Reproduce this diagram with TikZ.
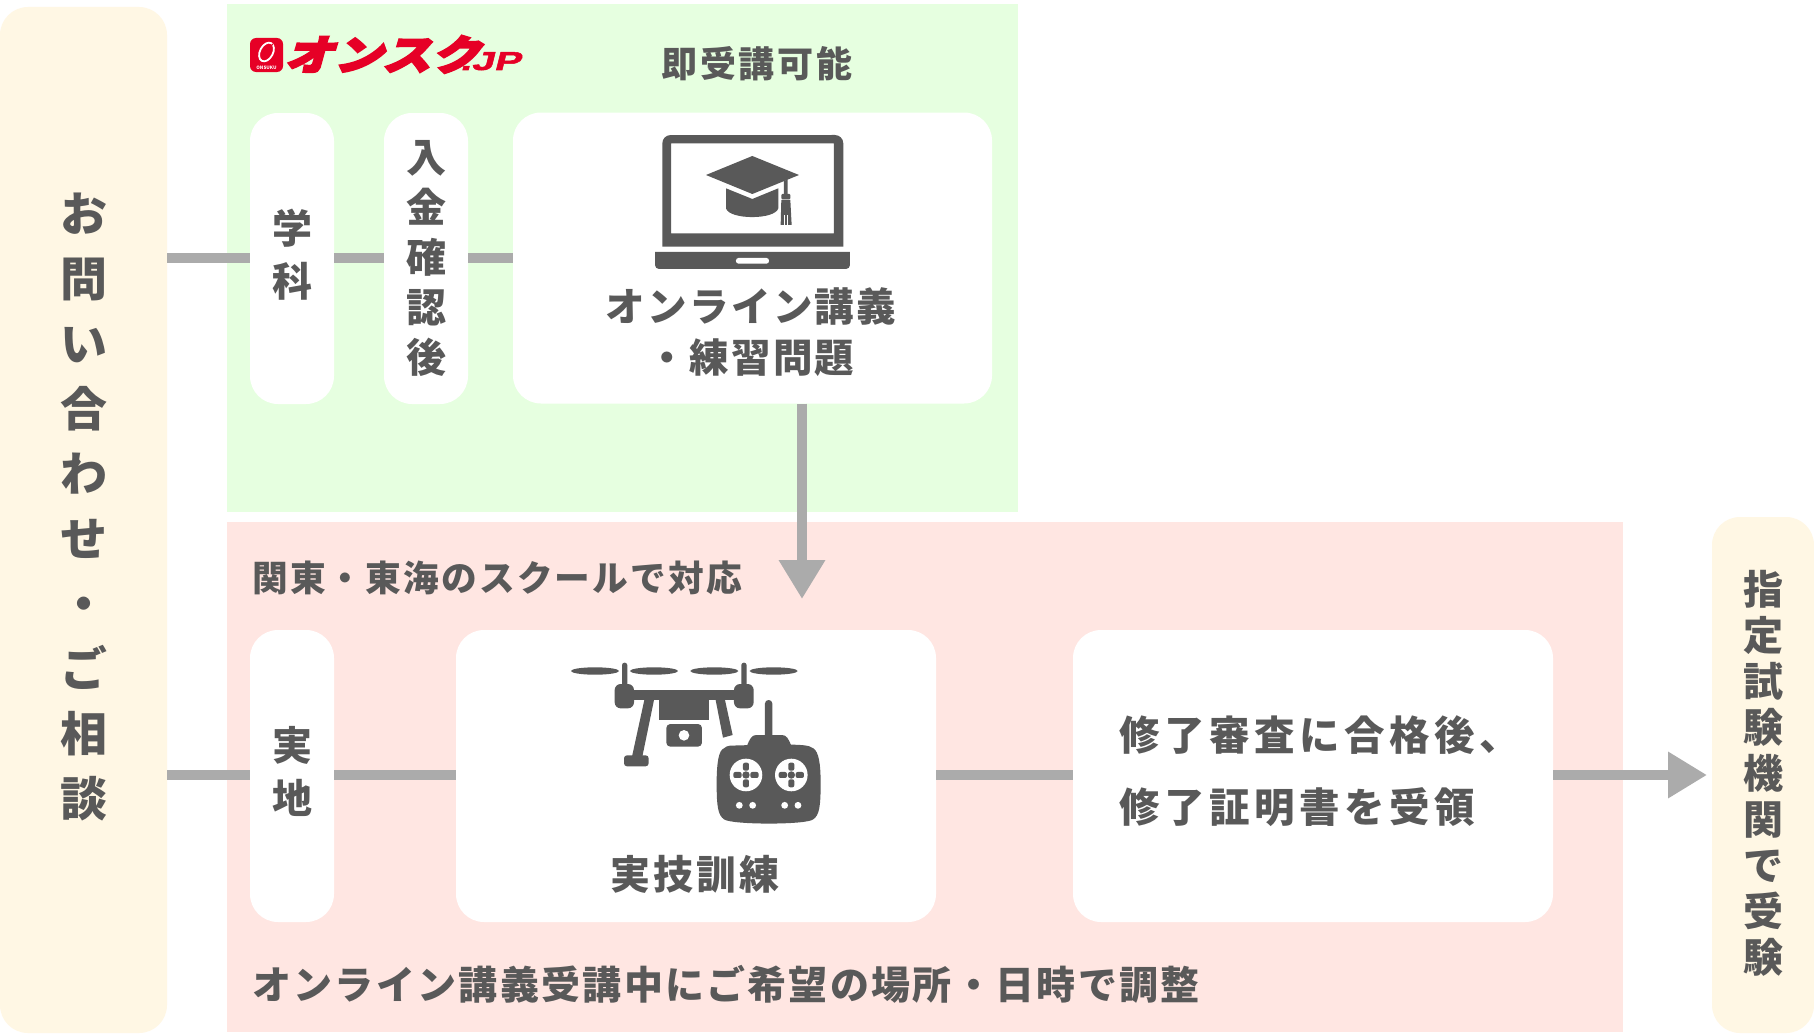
\documentclass[tikz,border=0pt]{standalone}
\usepackage{fontspec}
\usetikzlibrary{arrows.meta}
\setmainfont{Noto Sans CJK JP}
\newfontfamily\jpm[LetterSpace=6]{Noto Sans CJK JP}
\newfontfamily\jpw[LetterSpace=11]{Noto Sans CJK JP}
\newfontfamily\jpt[LetterSpace=8]{Noto Sans CJK JP}
\newfontfamily\logofont[FakeSlant=0.3,FakeStretch=1.2,FakeBold=5]{Noto Sans CJK JP}
\newfontfamily\latinlogo[FakeSlant=0.25,FakeStretch=1.55,FakeBold=2]{Liberation Sans}
\definecolor{ink}{HTML}{595959}
\definecolor{linegray}{HTML}{ABABAB}
\definecolor{panely}{HTML}{FFF7E4}
\definecolor{panelg}{HTML}{E6FFE0}
\definecolor{panelr}{HTML}{FFE6E2}
\definecolor{logored}{HTML}{E60026}
\newcommand{\fs}[2]{\fontsize{#1}{#2}\selectfont\jpm\bfseries}
\newcommand{\fw}[2]{\fontsize{#1}{#2}\selectfont\jpw\bfseries}
\newcommand{\ft}[2]{\fontsize{#1}{#2}\selectfont\jpt\bfseries}
\tikzset{
  sidepanel/.style={fill=panely,rounded corners=28pt,inner sep=0pt},
  whitebox/.style={fill=white,rounded corners=28pt,inner sep=0pt},
  band/.style={inner sep=0pt},
  label/.style={inner sep=0pt,text=ink,align=center},
  conn/.style={draw=linegray,line width=10.5pt},
  arrowconn/.style={conn,-{Triangle[width=44pt,length=39pt]}},
  icon/.style={fill=ink,draw=none},
  hole/.style={fill=white,draw=none}
}
\begin{document}
\begin{tikzpicture}[x=1pt,y=-1pt]
\useasboundingbox (0,0) rectangle (1814,1035.6);
\fill[white] (0,0) rectangle (1814,1035.6);
% bands
\node[band,fill=panelg,minimum width=791pt,minimum height=508pt] (green) at (622.5,258) {};
\node[band,fill=panelr,minimum width=1396pt,minimum height=510pt] (red) at (925,777) {};
% side panels
\node[sidepanel,minimum width=167pt,minimum height=1026pt] (ask) at (83.5,520) {};
\node[sidepanel,minimum width=102pt,minimum height=516pt] (exam) at (1763,775) {};
% white boxes
\node[whitebox,minimum width=84pt,minimum height=291pt] (gakka) at (292,258.5) {};
\node[whitebox,minimum width=84pt,minimum height=291pt] (nyukin) at (426,258.5) {};
\node[whitebox,minimum width=479pt,minimum height=291pt] (online) at (752.5,258) {};
\node[whitebox,minimum width=84pt,minimum height=292pt] (jitchi) at (292,776) {};
\node[whitebox,minimum width=480pt,minimum height=292pt] (train) at (696,776) {};
\node[whitebox,minimum width=480pt,minimum height=292pt] (cert) at (1313,776) {};
% labels
\node[label,font=\fs{47}{65}] (asktext) at (84,506.5) {お\\問\\い\\合\\わ\\せ\\・\\ご\\相\\談};
\node[label,font=\fs{40}{46}] (examtext) at (1763,773) {指\\定\\試\\験\\機\\関\\で\\受\\験};
\node[label,font=\fs{40}{53}] (gakkatext) at (292,255) {学\\科};
\node[label,font=\fs{40}{50}] (nyukintext) at (426,258.5) {入\\金\\確\\認\\後};
\node[label,font=\fs{40}{53}] (jitchitext) at (292,771) {実\\地};
\node[label,align=left,font=\fw{40.5}{72}] (certtext) at (1320,771.5) {修了審査に合格後、\\修了証明書を受領};
\node[label,font=\ft{36}{40}] (now) at (757,64) {即受講可能};
\node[label,font=\fs{39.5}{51}] (ontext) at (751,332) {オンライン講義\\・練習問題};
\node[label,font=\ft{40}{44}] (trtext) at (695,874) {実技訓練};
\node[label,font=\fs{35.7}{40},anchor=west] (kanto) at (252,578) {関東・東海のスクールで対応};
\node[label,font=\fs{39}{44},anchor=west] (adjust) at (252,984) {オンライン講義受講中にご希望の場所・日時で調整};
% connectors
\coordinate (uprow) at (0,258);
\coordinate (lowrow) at (0,775);
\coordinate (downend) at (802,599);
\coordinate (examend) at (1707,775);
\draw[conn] (ask.east |- uprow) -- (gakka.west |- uprow);
\draw[conn] (gakka.east |- uprow) -- (nyukin.west |- uprow);
\draw[conn] (nyukin.east |- uprow) -- (online.west |- uprow);
\draw[arrowconn] (online.south -| downend) -- (downend);
\draw[conn] (ask.east |- lowrow) -- (jitchi.west |- lowrow);
\draw[conn] (jitchi.east |- lowrow) -- (train.west |- lowrow);
\draw[conn] (train.east |- lowrow) -- (cert.west |- lowrow);
\draw[arrowconn] (cert.east |- lowrow) -- (examend);
% logo
\node[inner sep=0pt,anchor=base west,text=logored,font=\fontsize{41}{46}\selectfont\logofont\bfseries] (logotext) at (284,70) {オンスク\kern-20pt{\fontsize{26}{27}\selectfont\latinlogo .JP}};
\fill[logored,rounded corners=6pt] (250,38) rectangle (283,72);
\draw[white,line width=1.8pt,rotate around={-28:(266.5,52)}] (266.5,52) ellipse (6.5pt and 10pt);
\draw[logored,line width=1.2pt] (273,44) -- (262,54);
\node[inner sep=0pt,text=white,font=\fontsize{4.6}{5}\selectfont\bfseries] (logosmall) at (266.5,67.5) {ONSUKU};
% laptop icon
\begin{scope}[shift={(630,120)},x=0.3333pt,y=-0.3333pt]
  \fill[icon,even odd rule] (97,380) -- (97,70) arc[start angle=180,end angle=90,radius=8.3pt] -- (615,45) arc[start angle=90,end angle=0,radius=8.3pt] -- (640,380) -- cycle (123,70) rectangle (612,340);
  \fill[icon] (75,396) -- (660,396) -- (660,435) arc[start angle=0,end angle=-90,radius=4pt] -- (87,447) arc[start angle=270,end angle=180,radius=4pt] -- cycle;
  \fill[hole,rounded corners=2.5pt] (318,414) rectangle (417,431);
  \fill[icon] (228,165) -- (367,108) -- (507,165) -- (367,222) -- cycle;
  \fill[icon] (288,205) -- (367,237) -- (445,205) -- (445,265) .. controls (435,300) and (298,300) .. (288,265) -- cycle;
  \fill[icon] (462,183) -- (473,178) -- (473,222) -- (462,222) -- cycle;
  \fill[icon,rounded corners=1pt] (454,222) rectangle (481,238);
  \fill[icon] (454,240) -- (481,240) -- (485,315) -- (452,315) -- cycle;
  \draw[white,line width=0.7pt] (463,285) -- (463,315) (473,285) -- (473,315);
\end{scope}
% drone icon
\begin{scope}[shift={(550,650)},x=0.3333pt,y=-0.3333pt]
  \foreach \px in {135,312,493,671} \fill[icon] (\px,63) ellipse (24pt and 3.7pt);
  \fill[icon,rounded corners=2.5pt] (216,38) rectangle (232,110);
  \fill[icon,rounded corners=2.5pt] (574,38) rectangle (590,110);
  \fill[icon,rounded corners=6pt] (194,102) rectangle (252,175);
  \fill[icon,rounded corners=6pt] (552,102) rectangle (611,175);
  \fill[icon] (245,120) rectangle (560,150);
  \fill[icon] (328,150) rectangle (478,210);
  \fill[icon] (283,150) -- (312,150) -- (277,320) -- (246,320) -- cycle;
  \fill[icon,rounded corners=3pt] (222,316) rectangle (296,349);
  \fill[icon] (497,150) -- (525,150) -- (548,255) -- (519,263) -- cycle;
  \fill[icon,rounded corners=4pt] (349,222) rectangle (456,290);
  \fill[hole] (402,256) circle (5.3pt);
  \fill[icon,rounded corners=3.5pt] (645,150) rectangle (667,270);
  \fill[icon] (590,290) .. controls (600,265) and (605,255) .. (620,255) -- (695,255) .. controls (710,255) and (715,265) .. (725,290) -- cycle;
  \fill[icon] (540,287) .. controls (770,280) and (775,285) .. (790,295) .. controls (806,305) and (812,340) .. (812,400) .. controls (812,470) and (808,495) .. (790,508) .. controls (770,525) and (545,525) .. (522,508) .. controls (504,495) and (500,470) .. (500,400) .. controls (500,340) and (506,300) .. (522,295) .. controls (528,290) and (532,288) .. (540,287) -- cycle;
  \foreach \cx in {588,724} {
    \fill[hole] (\cx,375) circle (16.3pt);
    \fill[icon] (\cx,375) circle (3.7pt);
    \fill[icon,rounded corners=2pt] (\cx-9,338) rectangle (\cx+9,362);
    \fill[icon,rounded corners=2pt] (\cx-9,388) rectangle (\cx+9,412);
    \fill[icon,rounded corners=2pt] (\cx-38,366) rectangle (\cx-13,384);
    \fill[icon,rounded corners=2pt] (\cx+13,366) rectangle (\cx+38,384);
  }
  \foreach \bx in {568,608,704,744} \fill[hole] (\bx,466) circle (3.4pt);
\end{scope}
\end{tikzpicture}
\end{document}
